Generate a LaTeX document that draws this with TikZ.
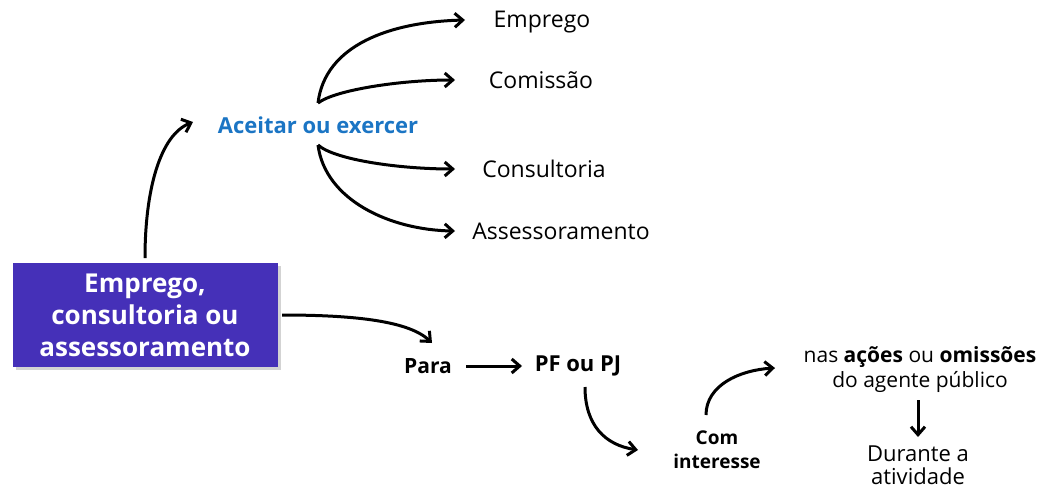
\documentclass[tikz,border=0pt]{standalone}
\usepackage{fontspec}
\setmainfont{Open Sans}
\usetikzlibrary{arrows.meta,shadows,calc}
\definecolor{boxc}{HTML}{4530B8}
\definecolor{bluet}{HTML}{1B75C4}
\begin{document}
\begin{tikzpicture}[x=1pt,y=-1pt,
  arr/.style={line width=3pt,-{Straight Barb[length=8pt,width=14pt,line width=3pt]}},
  lbl/.style={font=\fontsize{23}{26}\selectfont, inner sep=1pt},
  blbl/.style={font=\fontsize{21}{24}\selectfont\bfseries, inner sep=1pt}]
\useasboundingbox (0,0) rectangle (1046,490);
\node[fill=boxc, minimum width=265pt, minimum height=104pt, inner sep=0pt,
  drop shadow={shadow xshift=3pt,shadow yshift=-3pt,opacity=0.35},
  text=white, align=center, font=\fontsize{26}{32}\selectfont\bfseries] (main) at (145,315)
  {Emprego,\\consultoria ou\\assessoramento};
\node[blbl, text=bluet, font=\fontsize{22}{24}\selectfont\bfseries] (ace) at (318,125) {Aceitar ou exercer};
\node[lbl] (emp) at (542,22) {Emprego};
\node[lbl] (com) at (541,80) {Comissão};
\node[lbl] (con) at (544,169) {Consultoria};
\node[lbl] (ass) at (561,231) {Assessoramento};
\node[blbl] (para) at (428,366) {Para};
\node[blbl, font=\fontsize{22}{24}\selectfont\bfseries] (pf) at (578,366) {PF ou PJ};
\node[blbl, align=center, font=\fontsize{19}{24}\selectfont\bfseries] (ci) at (717,450) {Com\\interesse};
\node[lbl, align=center, font=\fontsize{21}{25}\selectfont] (nas) at (920,370) {nas \textbf{ações} ou \textbf{omissões}\\do agente público};
\node[lbl, align=center, font=\fontsize{22}{23}\selectfont] (dur) at (918,465) {Durante a\\atividade};
\draw[arr] ($(main)+(0,-57)$) .. controls (145,190) and (160,135) .. ($(ace)+(-125,-3)$);
\draw[arr] ($(ace)+(0,-22)$) .. controls (325,45) and (390,22) .. ($(emp)+(-77,-2)$);
\draw[arr] ($(ace)+(0,-22)$) .. controls (335,90) and (400,80) .. ($(com)+(-86,0)$);
\draw[arr] ($(ace)+(0,20)$) .. controls (335,160) and (400,169) .. ($(con)+(-89,0)$);
\draw[arr] ($(ace)+(0,20)$) .. controls (325,200) and (390,230) .. ($(ass)+(-106,0)$);
\draw[arr] ($(main)+(137,0)$) .. controls (360,315) and (410,322) .. ($(para)+(4,-23)$);
\draw[arr] ($(para)+(38,0)$) -- ($(pf)+(-56,0)$);
\draw[arr] ($(pf)+(7,21)$) .. controls (585,425) and (605,445) .. ($(ci)+(-79,0)$);
\draw[arr] ($(ci)+(-11,-35)$) .. controls (706,385) and (740,370) .. ($(nas)+(-145,-2)$);
\draw[arr] ($(nas)+(-2,30)$) -- ($(dur)+(0,-28)$);
\end{tikzpicture}
\end{document}
